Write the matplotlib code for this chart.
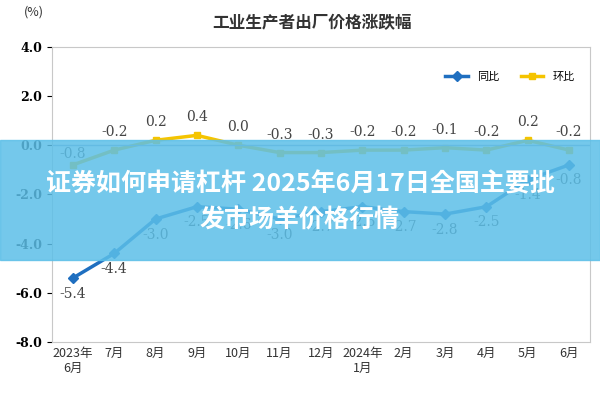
import matplotlib
matplotlib.use("Agg")
import matplotlib.pyplot as plt
from matplotlib import font_manager
from matplotlib.patches import Rectangle

names = {f.name for f in font_manager.fontManager.ttflist}
cjk = [n for n in ["Noto Sans CJK SC", "Noto Sans CJK JP", "Noto Sans CJK TC",
                   "Noto Sans CJK KR", "Noto Sans SC"] if n in names]
plt.rcParams["font.family"] = cjk + ["DejaVu Sans"]

months = ["2023年\n6月", "7月", "8月", "9月", "10月", "11月", "12月", "2024年\n1月",
          "2月", "3月", "4月", "5月", "6月"]
yoy = [-5.4, -4.4, -3.0, -2.5, -2.6, -3.0, -2.7, -2.5, -2.7, -2.8, -2.5, -1.4, -0.8]
mom = [-0.8, -0.2, 0.2, 0.4, 0.0, -0.3, -0.3, -0.2, -0.2, -0.1, -0.2, 0.2, -0.2]

fig = plt.figure(figsize=(6, 4), dpi=100)
ax = fig.add_axes([0.087, 0.145, 0.896, 0.738])
x = range(len(months))
ax.plot(x, yoy, color="#1f6fc0", lw=2.5, marker="D", ms=5, label="同比")
ax.plot(x, mom, color="#f5c400", lw=2.5, marker="s", ms=5, label="环比")
for i, v in enumerate(yoy):
    ax.text(i, v - 0.35, f"{v:.1f}", ha="center", va="top", fontsize=10,
            color="#444", family="serif")
for i, v in enumerate(mom):
    ax.text(i, v + 0.45 if i else v + 0.15, f"{v:.1f}", ha="center", va="bottom",
            fontsize=10, color="#444", family="serif")
ax.set_ylim(-8, 4)
ax.set_xlim(-0.5, 12.5)
ax.set_yticks([-8, -6, -4, -2, 0, 2, 4])
ax.set_yticklabels([f"{t:.1f}" for t in [-8, -6, -4, -2, 0, 2, 4]], fontsize=9,
                   family="serif", fontweight="bold")
ax.set_xticks(list(x))
ax.set_xticklabels(months, fontsize=9, color="#333")
ax.tick_params(axis="x", length=0)
ax.axhline(0, color="#8fa8c8", lw=1)
for s in ax.spines.values():
    s.set_color("#c8c8c8")
ax.legend(loc="upper right", ncol=2, frameon=False, fontsize=8, bbox_to_anchor=(0.99, 0.95))
fig.text(0.04, 0.96, "(%)", fontsize=9, color="#333")
fig.text(0.52, 0.93, "工业生产者出厂价格涨跌幅", ha="center", fontsize=12,
         fontweight="bold", color="#333")

fig.patches.append(Rectangle((0, 0.35), 1, 0.3, transform=fig.transFigure,
                             color="#5cbfe8", alpha=0.85, zorder=5))
fig.text(0.5, 0.54, "证券如何申请杠杆 2025年6月17日全国主要批", ha="center",
         va="center", fontsize=18, fontweight="bold", color="white", zorder=6)
fig.text(0.5, 0.45, "发市场羊价格行情", ha="center", va="center", fontsize=18,
         fontweight="bold", color="white", zorder=6)
fig.savefig("out.png", dpi=100)
